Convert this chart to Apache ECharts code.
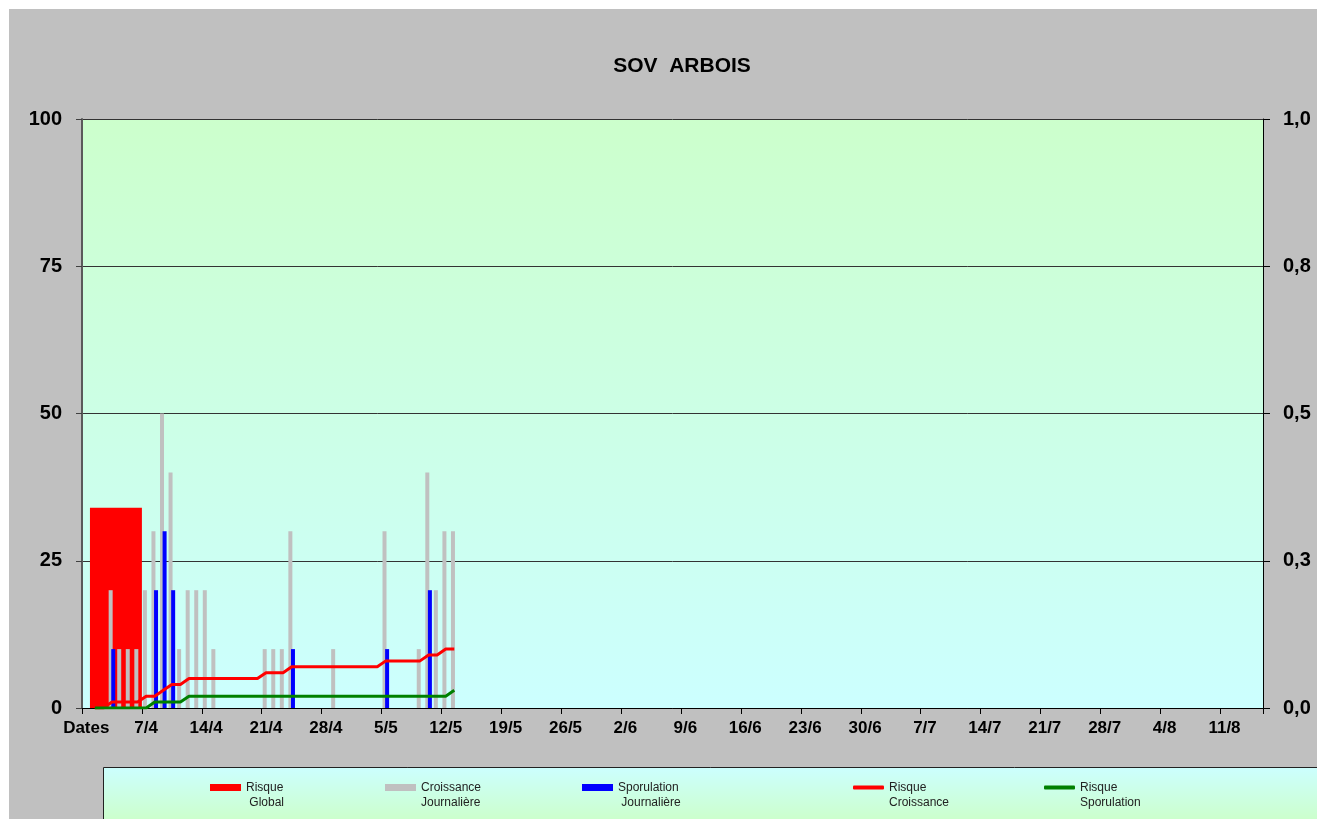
<!DOCTYPE html>
<html>
<head>
<meta charset="utf-8">
<script src="https://cdn.jsdelivr.net/npm/echarts@6/dist/echarts.min.js"></script>
<style>
html,body{margin:0;padding:0;background:#fff;}
#chart{width:1317px;height:819px;}
</style>
</head>
<body>
<div id="chart"></div>
<script>
const categories = [
"31/3",
"1/4","2/4","3/4","4/4","5/4","6/4","7/4","8/4","9/4","10/4","11/4","12/4","13/4","14/4","15/4","16/4","17/4","18/4","19/4","20/4","21/4","22/4","23/4","24/4","25/4","26/4","27/4","28/4","29/4","30/4",
"1/5","2/5","3/5","4/5","5/5","6/5","7/5","8/5","9/5","10/5","11/5","12/5","13/5","14/5","15/5","16/5","17/5","18/5","19/5","20/5","21/5","22/5","23/5","24/5","25/5","26/5","27/5","28/5","29/5","30/5","31/5",
"1/6","2/6","3/6","4/6","5/6","6/6","7/6","8/6","9/6","10/6","11/6","12/6","13/6","14/6","15/6","16/6","17/6","18/6","19/6","20/6","21/6","22/6","23/6","24/6","25/6","26/6","27/6","28/6","29/6","30/6",
"1/7","2/7","3/7","4/7","5/7","6/7","7/7","8/7","9/7","10/7","11/7","12/7","13/7","14/7","15/7","16/7","17/7","18/7","19/7","20/7","21/7","22/7","23/7","24/7","25/7","26/7","27/7","28/7","29/7","30/7","31/7",
"1/8","2/8","3/8","4/8","5/8","6/8","7/8","8/8","9/8","10/8","11/8","12/8","13/8","14/8","15/8"
];
const tickLabels = ["Dates","7/4","14/4","21/4","28/4","5/5","12/5","19/5","26/5","2/6","9/6","16/6","23/6","30/6","7/7","14/7","21/7","28/7","4/8","11/8"];
const leftTicks = [0, 25, 50, 75, 100];
const rightTicks = [0, 0.25, 0.5, 0.75, 1.0];

// Risque Global : one wide bar [startDay, endDay, value]
const risqueGlobal = [[0.93, 7, 34]];
// Croissance Journalière (grey bars)
const croissanceJ = [null,null,null,20,10,10,10,20,30,50,40,10,20,20,20,10,null,null,null,null,null,10,10,10,30,null,null,null,null,10,null,null,null,null,null,30,null,null,null,10,40,20,30,30];
// Sporulation Journalière (blue bars)
const sporulationJ = [null,null,null,10,null,null,null,null,20,30,20,null,null,null,null,null,null,null,null,null,null,null,null,null,10,null,null,null,null,null,null,null,null,null,null,10,null,null,null,null,20,null,null,null];
// Risque Croissance (red line)
const risqueCroissance = [null,0,0,1,1,1,1,2,2,3,4,4,5,5,5,5,5,5,5,5,5,6,6,6,7,7,7,7,7,7,7,7,7,7,7,8,8,8,8,8,9,9,10,10];
// Risque Sporulation (green line)
const risqueSporulation = [null,0,0,0,0,0,0,0,1,1,1,1,2,2,2,2,2,2,2,2,2,2,2,2,2,2,2,2,2,2,2,2,2,2,2,2,2,2,2,2,2,2,2,3];

const legendTexts = {
  "Risque Global": "\nRisque\n Global",
  "Croissance Journalière": "\nCroissance\nJournalière",
  "Sporulation Journalière": "\nSporulation\n Journalière",
  "Risque Croissance": "\nRisque\nCroissance",
  "Risque Sporulation": "\nRisque\nSporulation"
};

const FONT = "'Liberation Sans', Arial, sans-serif";
const chart = echarts.init(document.getElementById('chart'));

function legendItem(name, left, icon, h) {
  return {
    data: [{name: name, icon: icon}],
    left: left, top: 765, padding: 0,
    itemWidth: 31, itemHeight: h,
    selectedMode: false,
    formatter: n => legendTexts[n],
    textStyle: {fontFamily: FONT, fontSize: 12, color: '#222', lineHeight: 15}
  };
}

const option = {
  animation: false,
  backgroundColor: '#C0C0C0',
  title: {
    text: 'SOV  ARBOIS',
    left: 682, top: 56, padding: 0, textAlign: 'center',
    textStyle: {fontFamily: FONT, fontSize: 21, fontWeight: 'bold', color: '#000'}
  },
  graphic: [
    {type: 'rect', shape: {x: 0, y: 0, width: 1317, height: 9}, style: {fill: '#fff'}, silent: true, z: 0},
    {type: 'rect', shape: {x: 0, y: 0, width: 9, height: 819}, style: {fill: '#fff'}, silent: true, z: 0},
    {type: 'rect', shape: {x: 103.5, y: 767.5, width: 1300, height: 80}, silent: true, z: 0,
      style: {stroke: '#222', lineWidth: 1,
        fill: {type: 'linear', x: 0, y: 0, x2: 0, y2: 1, colorStops: [{offset: 0, color: '#CCFFFF'}, {offset: 0.65, color: '#CCFFCC'}, {offset: 1, color: '#CCFFCC'}]}}}
  ],
  legend: [
    legendItem('Risque Global', 210, 'rect', 7),
    legendItem('Croissance Journalière', 385, 'rect', 7),
    legendItem('Sporulation Journalière', 582, 'rect', 7),
    legendItem('Risque Croissance', 853, 'roundRect', 4),
    legendItem('Risque Sporulation', 1044, 'roundRect', 4)
  ],
  grid: {
    left: 82, top: 119, right: 54, bottom: 111, containLabel: false,
    show: true, borderWidth: 0,
    backgroundColor: {type: 'linear', x: 0, y: 0, x2: 0, y2: 1, colorStops: [{offset: 0, color: '#CCFFCC'}, {offset: 1, color: '#CCFFFF'}]}
  },
  xAxis: [
    {
      type: 'category', data: categories, boundaryGap: true,
      axisLine: {show: true, lineStyle: {color: '#000', width: 1}},
      axisTick: {show: true, interval: 6, length: 6, lineStyle: {color: '#000'}},
      axisLabel: {interval: 6, margin: 12, color: '#000', fontFamily: FONT, fontSize: 17, fontWeight: 'bold',
        formatter: (v, i) => tickLabels[Math.round(i / 7)]},
      splitLine: {show: false}
    },
    {type: 'value', min: 0, max: categories.length, show: false}
  ],
  yAxis: [
    {
      type: 'value', min: leftTicks[0], max: leftTicks[leftTicks.length - 1], interval: 25, position: 'left',
      axisLine: {show: true, lineStyle: {color: '#5a5a5a', width: 2}},
      axisTick: {show: true, length: 6, lineStyle: {color: '#404040'}},
      axisLabel: {margin: 20, color: '#000', fontFamily: FONT, fontSize: 20, fontWeight: 'bold'},
      splitLine: {show: true, lineStyle: {color: '#333', width: 1}}
    },
    {
      type: 'value', min: rightTicks[0], max: rightTicks[rightTicks.length - 1], interval: 0.25, position: 'right',
      axisLine: {show: true, lineStyle: {color: '#000', width: 1}},
      axisTick: {show: true, length: 7, lineStyle: {color: '#000'}},
      axisLabel: {margin: 20, color: '#000', fontFamily: FONT, fontSize: 20, fontWeight: 'bold',
        formatter: v => v.toFixed(1).replace('.', ',')},
      splitLine: {show: false}
    }
  ],
  series: [
    {
      name: 'Risque Global', type: 'custom', xAxisIndex: 1, yAxisIndex: 0,
      itemStyle: {color: '#FF0000'}, z: 1,
      data: risqueGlobal,
      renderItem: (params, api) => {
        const p0 = api.coord([api.value(0), api.value(2)]);
        const p1 = api.coord([api.value(1), 0]);
        return {type: 'rect', shape: {x: p0[0], y: p0[1], width: p1[0] - p0[0], height: p1[1] - p0[1]},
          style: {fill: '#FF0000'}};
      }
    },
    {
      name: 'Croissance Journalière', type: 'bar', data: croissanceJ, barWidth: 4, barGap: '-35%',
      itemStyle: {color: '#C0C0C0'}, z: 2
    },
    {
      name: 'Sporulation Journalière', type: 'bar', data: sporulationJ, barWidth: 4, barGap: '-35%',
      itemStyle: {color: '#0000FF'}, z: 2
    },
    {
      name: 'Risque Croissance', type: 'line', data: risqueCroissance, showSymbol: false, symbol: 'none',
      lineStyle: {color: '#FF0000', width: 3}, itemStyle: {color: '#FF0000'}, z: 3
    },
    {
      name: 'Risque Sporulation', type: 'line', data: risqueSporulation, showSymbol: false, symbol: 'none',
      lineStyle: {color: '#008000', width: 3}, itemStyle: {color: '#008000'}, z: 3
    }
  ]
};
chart.setOption(option);
</script>
</body>
</html>
